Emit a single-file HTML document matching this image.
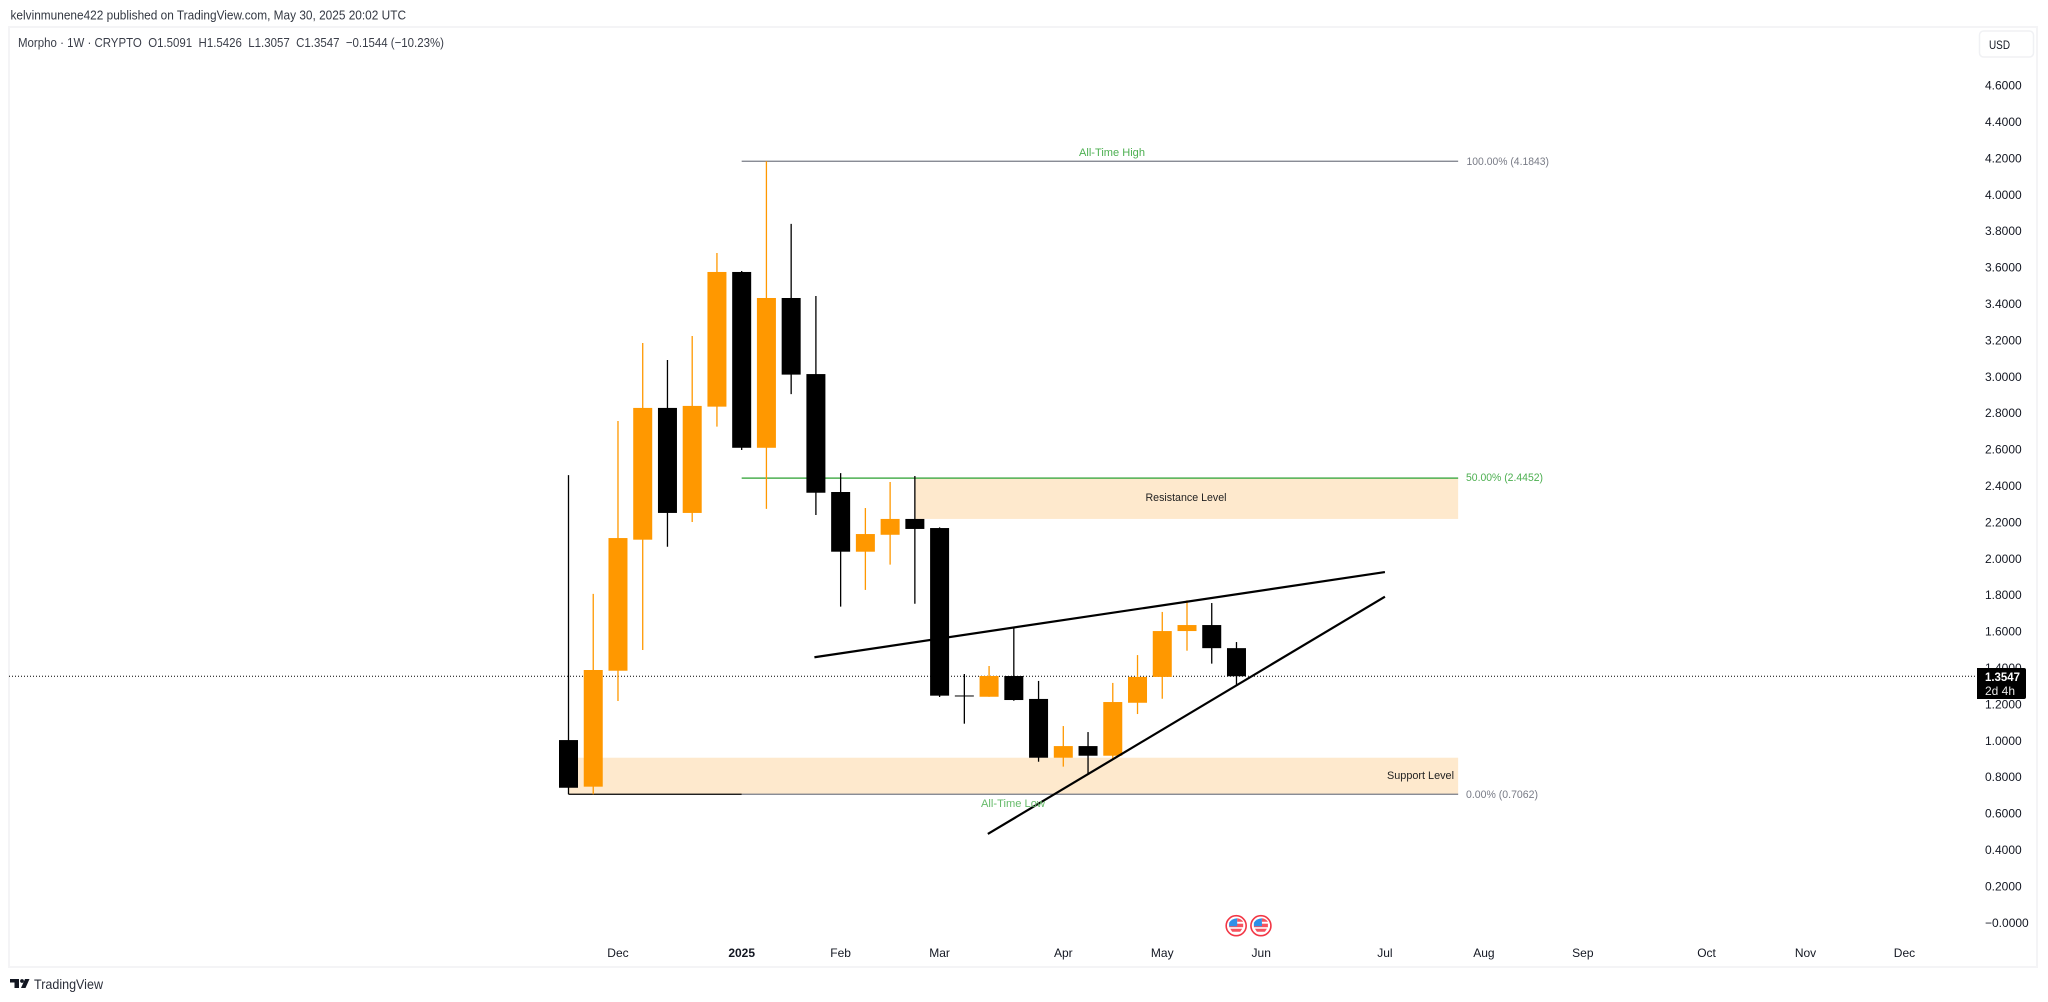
<!DOCTYPE html>
<html lang="en">
<head>
<meta charset="utf-8">
<title>Morpho 1W chart</title>
<style>
html,body{margin:0;padding:0;width:2048px;height:1002px;overflow:hidden;background:#fff}
svg{display:block}
text{font-family:"Liberation Sans",Arial,sans-serif}
</style>
</head>
<body>
<svg id="chart" xmlns="http://www.w3.org/2000/svg" width="2048" height="1002" viewBox="0 0 2048 1002">
  <rect x="0" y="0" width="2048" height="1002" fill="#ffffff"/>
  <text x="10.5" y="19.5" font-size="13" fill="#333842" textLength="395.5" lengthAdjust="spacingAndGlyphs">kelvinmunene422 published on TradingView.com, May 30, 2025 20:02 UTC</text>
  <rect x="9" y="27" width="2028" height="940" fill="none" stroke="#f4f4f6" stroke-width="2"/>
  <text x="18" y="47" font-size="13" fill="#3a3e49" textLength="426" lengthAdjust="spacingAndGlyphs" xml:space="preserve">Morpho · 1W · CRYPTO  O1.5091  H1.5426  L1.3057  C1.3547  −0.1544 (−10.23%)</text>
  <g id="zones"></g>
  <g id="price-line"></g>
  <g id="fibs"></g>
  <g id="candles"></g>
  <g id="trends"></g>
  <g id="yaxis"></g>
  <g id="xaxis"></g>
  <g id="events"></g>

  <text x="1112" y="156" font-size="11" fill="#4caf50" text-anchor="middle" textLength="66" lengthAdjust="spacingAndGlyphs">All-Time High</text>
  <text x="1013" y="807" font-size="11" fill="#66bb6a" text-anchor="middle" textLength="64" lengthAdjust="spacingAndGlyphs">All-Time Low</text>
  <text x="1186" y="501" font-size="11" fill="#222222" text-anchor="middle" textLength="81" lengthAdjust="spacingAndGlyphs">Resistance Level</text>
  <text x="1420.5" y="779" font-size="11" fill="#222222" text-anchor="middle" textLength="67" lengthAdjust="spacingAndGlyphs">Support Level</text>
  <text x="1466.5" y="165" font-size="11" fill="#787b86" textLength="82.5" lengthAdjust="spacingAndGlyphs">100.00% (4.1843)</text>
  <text x="1466" y="481" font-size="11" fill="#4caf50" textLength="77" lengthAdjust="spacingAndGlyphs">50.00% (2.4452)</text>
  <text x="1466" y="798" font-size="11" fill="#787b86" textLength="72" lengthAdjust="spacingAndGlyphs">0.00% (0.7062)</text>

  <g>
    <rect x="1979.5" y="31" width="54" height="26" rx="4" fill="#ffffff" stroke="#f0f1f4" stroke-width="1.5"/>
    <text x="1989" y="49" font-size="12" fill="#131722" textLength="21" lengthAdjust="spacingAndGlyphs">USD</text>
  </g>

  <g>
    <path d="M1977 668H2024a2 2 0 0 1 2 2V697a2 2 0 0 1 -2 2H1977Z" fill="#000000"/>
    <text x="1985" y="681" font-size="12" font-weight="bold" fill="#ffffff" textLength="35" lengthAdjust="spacingAndGlyphs">1.3547</text>
    <text x="1985" y="695" font-size="12" fill="#e8e8e8" textLength="30" lengthAdjust="spacingAndGlyphs">2d 4h</text>
  </g>

  <g>
    <path d="M10 979H19V988H14.5V982.5H10Z" fill="#131722"/>
    <circle cx="22" cy="981" r="1.9" fill="#131722"/>
    <path d="M25 979H29.5L25.5 988H21Z" fill="#131722"/>
    <text x="34" y="989" font-size="14" fill="#2a2e39" textLength="69" lengthAdjust="spacingAndGlyphs">TradingView</text>
  </g>
</svg>
<script>
// Weekly OHLC values (price, USD)
const opens  = [1.004,0.748,1.385,2.105,2.829,2.252,2.836,3.576,2.610,3.433,3.015,2.367,2.039,2.132,2.219,2.169,1.249,1.242,1.356,1.230,0.907,0.971,0.918,1.209,1.351,1.603,1.636,1.5091];
const highs  = [2.460,1.807,2.757,3.186,3.092,3.224,3.680,3.581,4.1843,3.840,3.444,2.471,2.279,2.422,2.455,2.173,1.367,1.411,1.627,1.329,1.081,1.048,1.318,1.471,1.708,1.772,1.757,1.5426];
const lows   = [0.7062,0.7062,1.219,1.499,2.066,2.202,2.726,2.598,2.274,2.905,2.241,1.737,1.829,1.968,1.753,1.241,1.094,1.242,1.220,0.885,0.858,0.818,0.895,1.147,1.231,1.495,1.424,1.3057];
const closes = [0.742,1.389,2.114,2.829,2.252,2.840,3.576,2.610,3.433,3.012,2.363,2.039,2.136,2.219,2.164,1.248,1.246,1.356,1.224,0.907,0.971,0.918,1.213,1.351,1.603,1.636,1.509,1.3547];

const priceTicks = [4.6,4.4,4.2,4.0,3.8,3.6,3.4,3.2,3.0,2.8,2.6,2.4,2.2,2.0,1.8,1.6,1.4,1.2,1.0,0.8,0.6,0.4,0.2,0];
const timeLabels = ['Dec','2025','Feb','Mar','Apr','May','Jun','Jul','Aug','Sep','Oct','Nov','Dec'];
const timeLabelBars = [2,7,11,15,20,24,28,33,37,41,46,50,54];
const eventBars = [27,28];

const lastPrice = 1.3547;
const fibHigh = 4.1843;
const fibMid = 2.4452;
const fibLow = 0.7062;
const fibStartBar = 7;
const drawingEndBar = 35.96;
const resistanceStartBar = 14;
const resistanceBottom = 2.219;
const supportTop = 0.907;
const upperTrendBars = [9.94,33];
const upperTrendPrices = [1.459,1.927];
const lowerTrendBars = [16.95,33];
const lowerTrendPrices = [0.488,1.792];

const NS = 'http://www.w3.org/2000/svg';
function xScale(i){ return 568.5 + 24.74 * i; }
function yScale(p){ return 85.6 + (4.6 - p) * 182; }
function make(tag, parent, attrs){
  const el = document.createElementNS(NS, tag);
  for (const k in attrs) el.setAttribute(k, attrs[k]);
  parent.appendChild(el);
  return el;
}
const ORANGE = '#ff9800', BLACK = '#000000', ZONE = '#fee9cd';

// Zones
const zonesG = document.getElementById('zones');
const resistanceZone = make('rect', zonesG, {x:xScale(resistanceStartBar), y:yScale(fibMid), width:xScale(drawingEndBar)-xScale(resistanceStartBar), height:yScale(resistanceBottom)-yScale(fibMid), fill:ZONE});


const supportZone = make('rect', zonesG, {x:xScale(0), y:yScale(supportTop), width:xScale(drawingEndBar)-xScale(0), height:yScale(fibLow)-yScale(supportTop), fill:ZONE});



// Last price dotted line
const priceLine = make('line', document.getElementById('price-line'), {x1:9, x2:1977, y1:yScale(lastPrice), y2:yScale(lastPrice), stroke:'#000000', 'stroke-width':1, 'stroke-dasharray':'1 2'});



// Fibonacci levels
const fibsG = document.getElementById('fibs');
const fib100 = make('line', fibsG, {x1:xScale(fibStartBar), x2:xScale(drawingEndBar), y1:yScale(fibHigh), y2:yScale(fibHigh), stroke:'#787b86', 'stroke-width':1.3});


const fib50 = make('line', fibsG, {x1:xScale(fibStartBar), x2:xScale(drawingEndBar), y1:yScale(fibMid)+0.3, y2:yScale(fibMid)+0.3, stroke:'#4caf50', 'stroke-width':1.5});


const fib0 = make('line', fibsG, {x1:xScale(fibStartBar), x2:xScale(drawingEndBar), y1:yScale(fibLow), y2:yScale(fibLow), stroke:'#787b86', 'stroke-width':1.3});


const fibAnchor = make('line', fibsG, {x1:xScale(0), x2:xScale(fibStartBar), y1:yScale(fibLow), y2:yScale(fibLow), stroke:'#000000', 'stroke-width':1.3});



// Candles
const candlesG = document.getElementById('candles');
opens.forEach(function(o, i){
  const c = closes[i];
  const color = c >= o ? ORANGE : BLACK;
  const cx = xScale(i);
  const g = make('g', candlesG, {});
  
  
  const wick = make('line', g, {x1:cx, x2:cx, y1:yScale(highs[i]), y2:yScale(lows[i]), stroke:color, 'stroke-width':1.3});
  
  
  const top = yScale(Math.max(o, c));
  const h = Math.max(1, yScale(Math.min(o, c)) - top);
  const body = make('rect', g, {x:cx-9.5, y:top, width:19, height:h, fill:color});
  
  
});

// Trend lines
const trendsG = document.getElementById('trends');
const upperTrend = make('line', trendsG, {x1:xScale(upperTrendBars[0]), y1:yScale(upperTrendPrices[0]), x2:xScale(upperTrendBars[1]), y2:yScale(upperTrendPrices[1]), stroke:'#000000', 'stroke-width':2.2});


const lowerTrend = make('line', trendsG, {x1:xScale(lowerTrendBars[0]), y1:yScale(lowerTrendPrices[0]), x2:xScale(lowerTrendBars[1]), y2:yScale(lowerTrendPrices[1]), stroke:'#000000', 'stroke-width':2.2});



// Price axis
const yaxisG = document.getElementById('yaxis');
priceTicks.forEach(function(p){
  const t = make('text', yaxisG, {x:1985, y:yScale(p)+4, 'font-size':12, fill:'#131722'});
  
  
  t.textContent = p === 0 ? '\u22120.0000' : p.toFixed(4);
});

// Time axis
const xaxisG = document.getElementById('xaxis');
timeLabels.forEach(function(label, i){
  const attrs = {x:xScale(timeLabelBars[i]), y:957, 'font-size':12, fill:'#131722', 'text-anchor':'middle'};
  if (label === '2025') attrs['font-weight'] = 'bold';
  const t = make('text', xaxisG, attrs);
  
  
  t.textContent = label;
});

// Economic event flags
const eventsG = document.getElementById('events');
eventBars.forEach(function(bar){
  const cx = xScale(bar) - 0.3, cy = 925.7;
  const g = make('g', eventsG, {});
  
  
  make('circle', g, {cx:cx, cy:cy, r:10, fill:'#ffffff', stroke:'#f23645', 'stroke-width':1.6});
  make('rect', g, {x:cx-7, y:cy-2, width:14, height:3.5, fill:'#f7525f'});
  make('path', g, {d:'M'+(cx-6)+' '+(cy+3)+'H'+(cx+6)+'L'+(cx+4)+' '+(cy+6)+'H'+(cx-4)+'Z', fill:'#f7525f'});
  make('path', g, {d:'M'+(cx-7)+' '+(cy+0.5)+'V'+(cy-3)+'Q'+(cx-5)+' '+(cy-7)+' '+(cx+1)+' '+(cy-7.5)+'V'+(cy+0.5)+'Z', fill:'#2f8fe8'});
  make('path', g, {d:'M'+(cx+1)+' '+(cy-7.5)+'Q'+(cx+5)+' '+(cy-7)+' '+(cx+7)+' '+(cy-4)+'H'+(cx+1)+'Z', fill:'#f7525f'});
});
</script>
</body>
</html>
